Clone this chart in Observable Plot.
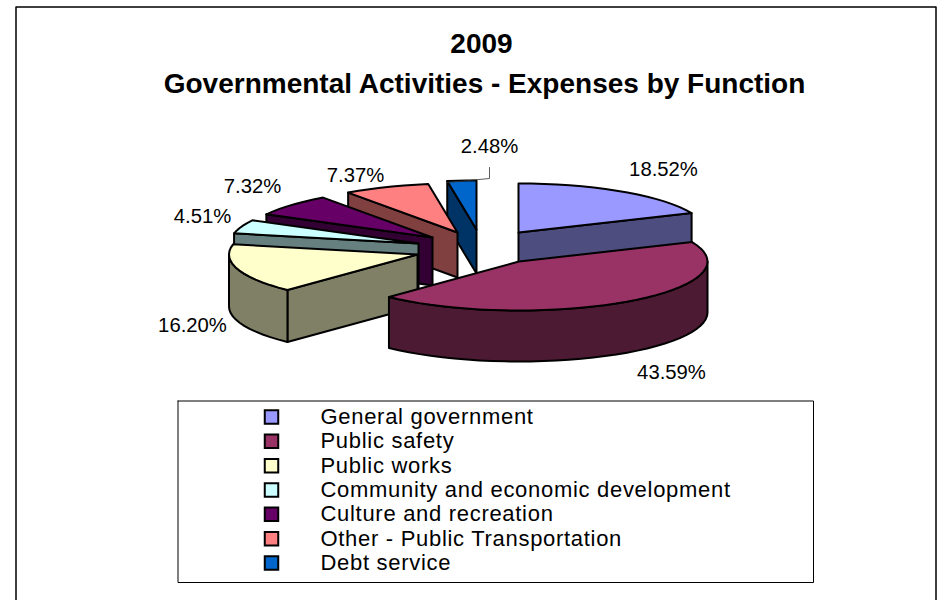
<!DOCTYPE html>
<html>
<head>
<meta charset="utf-8">
<script src="https://cdn.jsdelivr.net/npm/d3@7"></script>
<script src="https://cdn.jsdelivr.net/npm/@observablehq/plot@0.6"></script>
<style>html,body{margin:0;padding:0;background:#fff;overflow:hidden}svg{display:block}.lg text{letter-spacing:0.7px}</style>
</head>
<body>
<div id="chart"></div>
<script>
const categories = ["General government","Public safety","Public works","Community and economic development","Culture and recreation","Other - Public Transportation","Debt service"];
const shares = [18.52,43.59,16.20,4.51,7.32,7.37,2.48];
const topColors = ["#9999FF","#993366","#FFFFCC","#CCFFFF","#660066","#FF8080","#0066CC"];
const wallColors = ["#4D4D80","#4D1A33","#808066","#668080","#330033","#804040","#003366"];
const titleLines = ["2009","Governmental Activities - Expenses by Function"];

// layout of the exploded pie, in picture units
const apexX = [518,518.5,417,418,432,457,476];
const apexY = [232,261,254,243,237,232,229];
const depth = [42,51,52,50,48,45,44];
const radiusX = 188.5, radiusY = 49;
const labelX = [663,671,192,202,252,355,489];
const labelY = [169,372,325,216,186,175,146];
const drawOrder = [0,6,5,4,3,2,1];

const total = d3.sum(shares);
const ends = d3.cumsum(shares).map(v => v / total * 360);
const starts = ends.map((_, i) => i ? ends[i-1] : 0);
const rad = d => d * Math.PI / 180;

const polys = [];
function addPoly(id, color, pts){
  pts.concat([pts[0]]).forEach(p => polys.push({id, color, x:p[0], y:p[1]}));
}
function rim(i, a){ return [apexX[i] + radiusX*Math.sin(rad(a)), apexY[i] - radiusY*Math.cos(rad(a))]; }
function arc(i, a0, a1){
  const n = Math.max(2, Math.ceil((a1-a0)/4)), out = [];
  for (let k = 0; k <= n; k++) out.push(rim(i, a0 + (a1-a0)*k/n));
  return out;
}
const drop = (i, p) => [p[0], p[1] + depth[i]];
drawOrder.forEach(i => {
  const a0 = starts[i], a1 = ends[i], apex = [apexX[i], apexY[i]];
  if (a0 >= 180) { const p = rim(i,a0); addPoly(i+"r", wallColors[i], [apex,p,drop(i,p),drop(i,apex)]); }
  if (a1 <= 180) { const p = rim(i,a1); addPoly(i+"r", wallColors[i], [apex,p,drop(i,p),drop(i,apex)]); }
  const w0 = Math.max(a0,90), w1 = Math.min(a1,270);
  if (w1 > w0) {
    const t = arc(i,w0,w1);
    addPoly(i+"a", wallColors[i], t.concat(t.map(p => drop(i,p)).reverse()));
  }
  addPoly(i+"t", topColors[i], [apex].concat(arc(i,a0,a1)));
});

const font = "Liberation Sans, Arial, sans-serif";
const frame = [{x:15.5,y:600},{x:15.5,y:6.5},{x:935.5,y:6.5},{x:935.5,y:600}];
const legendBox = [{x:177.5,y:400.5},{x:813,y:400.5},{x:813,y:582},{x:177.5,y:582},{x:177.5,y:400.5}];
const leader = [{x:489,y:167},{x:489,y:178},{x:447,y:182}];
const legendY = categories.map((_, i) => 416.5 + i*24.33);
const legend = categories.map((name,i) => ({name, color:topColors[i], y:legendY[i]}));
const labels = shares.map((v,i) => ({t:v.toFixed(2)+"%", x:labelX[i], y:labelY[i]}));

const chart = Plot.plot({
  width:939, height:600, margin:0,
  x:{domain:[0,939], range:[0,939], axis:null},
  y:{domain:[0,600], range:[0,600], axis:null},
  color:{type:"identity"},
  style:{background:"#fff"},
  marks:[
    Plot.line(frame,{x:"x",y:"y",stroke:"#000",strokeWidth:1.5}),
    Plot.line(polys,{x:"x",y:"y",z:"id",fill:"color",stroke:"#000",strokeWidth:2,strokeLinejoin:"round"}),
    Plot.line(leader,{x:"x",y:"y",stroke:"#333",strokeWidth:0.8}),
    Plot.text(labels,{x:"x",y:"y",text:"t",fontFamily:font,fontSize:20.3,fill:"#000"}),
    Plot.text([titleLines[0]],{x:[481],y:[44],text:d=>d,fontFamily:font,fontSize:28,fontWeight:"bold",fill:"#000"}),
    Plot.text([titleLines[1]],{x:[484],y:[84],text:d=>d,fontFamily:font,fontSize:28,fontWeight:"bold",fill:"#000"}),
    Plot.line(legendBox,{x:"x",y:"y",stroke:"#000",strokeWidth:1}),
    Plot.dot(legend,{x:()=>271,y:"y",symbol:"square",r:7.6,fill:"color",stroke:"#000",strokeWidth:2}),
    Plot.text(legend,{x:()=>320,y:"y",text:"name",textAnchor:"start",fontFamily:font,fontSize:22,fill:"#000",className:"lg"})
  ]
});
document.getElementById("chart").appendChild(chart);
</script>
</body>
</html>
